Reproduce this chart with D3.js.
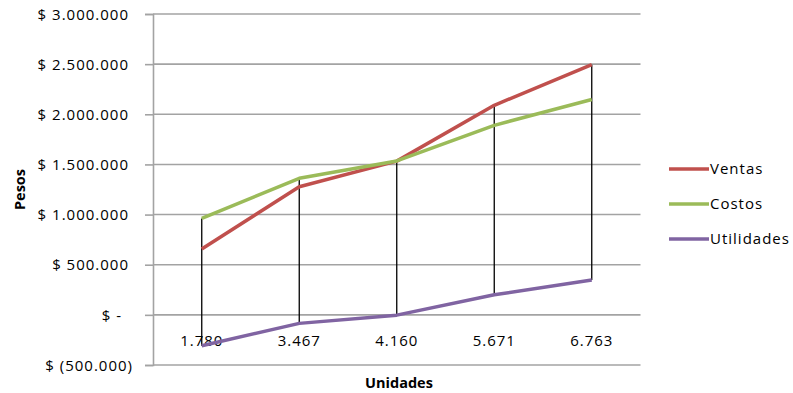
<!DOCTYPE html>
<html>
<head>
<meta charset="utf-8">
<script src="https://cdn.jsdelivr.net/npm/d3@7"></script>
<style>
  html, body { margin: 0; padding: 0; background: #fff; }
  svg { display: block; }
  .tick-label { font-family: "Open Sans", sans-serif; font-size: 15px; letter-spacing: 1px; fill: #000; }
  .axis-title { font-family: "Open Sans", sans-serif; font-size: 14.5px; font-weight: bold; fill: #000; }
</style>
</head>
<body>
<svg id="chart" width="793" height="393"></svg>
<script>
// Unidades vendidas (categorías del eje X)
const categories = ["1.780", "3.467", "4.160", "5.671", "6.763"];

// Valores en pesos por serie
const ventas     = [656000, 1277000, 1533000, 2090000, 2495000];
const costos     = [962000, 1362000, 1535000, 1890000, 2148000];
const utilidades = [-308000, -85000, -3000, 200000, 347000];

const seriesNames  = ["Ventas", "Costos", "Utilidades"];
const seriesColors = ["#C0504D", "#9BBB59", "#8064A2"];

// Eje Y: valores y etiquetas en formato contable
const yTickValues = [-500000, 0, 500000, 1000000, 1500000, 2000000, 2500000, 3000000];
const yTickLabels = ["$ (500.000)", "$ -", "$ 500.000", "$ 1.000.000", "$ 1.500.000", "$ 2.000.000", "$ 2.500.000", "$ 3.000.000"];

const series = [ventas, costos, utilidades].map((vals, i) => ({
  name: seriesNames[i],
  color: seriesColors[i],
  values: vals.map((v, j) => ({ cat: categories[j], v }))
}));

const svg = d3.select("#chart");
const plot = { left: 153, right: 640.5, top: 14, bottom: 365 };

const x = d3.scaleBand().domain(categories).range([plot.left, plot.right]).padding(0);
const y = d3.scaleLinear().domain([-500000, 3000000]).range([plot.bottom, plot.top]);
const cx = c => x(c) + x.bandwidth() / 2;

// Líneas de división horizontales
svg.append("g")
  .selectAll("line")
  .data(yTickValues)
  .join("line")
  .attr("x1", plot.left).attr("x2", plot.right)
  .attr("y1", d => y(d)).attr("y2", d => y(d))
  .attr("stroke", "#a3a3a3").attr("stroke-width", 1.6);

// Eje Y
const yAxis = d3.axisLeft(y)
  .tickValues(yTickValues)
  .tickSize(8)
  .tickPadding(0)
  .tickFormat((d, i) => yTickLabels[i]);

const gy = svg.append("g")
  .attr("transform", `translate(${plot.left},0)`)
  .call(yAxis);
gy.select(".domain").attr("stroke", "#a3a3a3").attr("stroke-width", 1.6);
gy.selectAll(".tick line").attr("stroke", "#a3a3a3").attr("stroke-width", 1.6);
gy.selectAll(".tick text")
  .attr("class", "tick-label")
  .attr("fill", null)
  .attr("x", d => d < 0 ? -20 : (d === 0 ? -31 : -24))
  .attr("dy", "0.35em");
gy.attr("font-family", null).attr("font-size", null);

// Eje X (etiquetas junto al cruce en cero)
const xAxis = d3.axisBottom(x).tickSize(0).tickPadding(0);
const gx = svg.append("g")
  .attr("transform", `translate(0,${y(0)})`)
  .call(xAxis);
gx.select(".domain").remove();
gx.attr("font-family", null).attr("font-size", null);
gx.selectAll(".tick text")
  .attr("class", "tick-label")
  .attr("fill", null)
  .attr("y", 26)
  .attr("dy", "0.35em");

// Líneas máximo-mínimo por categoría
svg.append("g")
  .selectAll("line")
  .data(categories)
  .join("line")
  .attr("x1", d => cx(d)).attr("x2", d => cx(d))
  .attr("y1", (d, j) => y(d3.max(series, s => s.values[j].v)))
  .attr("y2", (d, j) => y(d3.min(series, s => s.values[j].v)))
  .attr("stroke", "#000").attr("stroke-width", 1.3);

// Series
const line = d3.line().x(d => cx(d.cat)).y(d => y(d.v));
svg.append("g")
  .selectAll("path")
  .data(series)
  .join("path")
  .attr("d", d => line(d.values))
  .attr("fill", "none")
  .attr("stroke", d => d.color)
  .attr("stroke-width", 3.5)
  .attr("stroke-linejoin", "round");

// Leyenda
const legend = svg.append("g")
  .selectAll("g")
  .data(series)
  .join("g")
  .attr("transform", (d, i) => `translate(669,${169 + i * 35})`);
legend.append("line")
  .attr("x1", 0).attr("x2", 40)
  .attr("stroke", d => d.color).attr("stroke-width", 3.5);
legend.append("text")
  .attr("class", "tick-label")
  .attr("x", 41).attr("dy", "0.35em")
  .text(d => d.name);

// Títulos de ejes
svg.append("text")
  .attr("class", "axis-title")
  .attr("transform", `translate(20,${(plot.top + plot.bottom) / 2}) rotate(-90)`)
  .attr("text-anchor", "middle")
  .attr("dy", "0.35em")
  .text("Pesos");

svg.append("text")
  .attr("class", "axis-title")
  .attr("x", 399).attr("y", 383)
  .attr("text-anchor", "middle")
  .attr("dy", "0.35em")
  .text("Unidades");
</script>
</body>
</html>
